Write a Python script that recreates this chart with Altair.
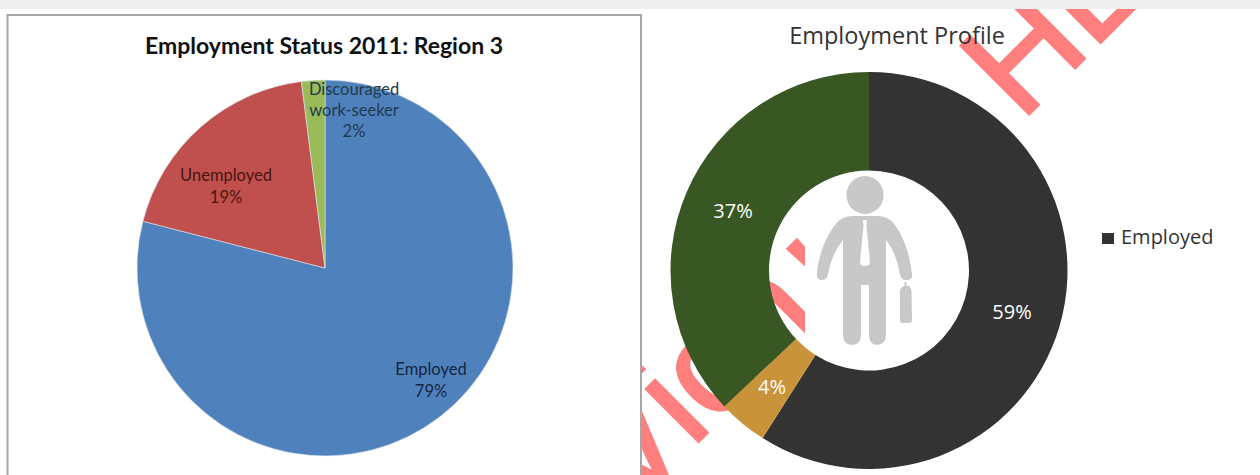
import altair as alt
import pandas as pd

# Employment shares, in percent
status_names = ["Employed", "Unemployed", "Discouraged work-seeker"]
status_values = [79, 19, 2]
status_colors = ["#4f81bd", "#c0504d", "#9bbb59"]

profile_names = ["Employed", "Unemployed", "Discouraged"]
profile_values = [59, 4, 37]
profile_colors = ["#333333", "#c9933a", "#385723"]

BODY_FONT = "Lato"
ICON_FONT = "Open Sans"
STAMP = "#ff7f7f"
ICON_GREY = "#c8c8c8"
blank = alt.Data(values=[{}])


def box(x, x2, y, y2, **style):
    return alt.Chart(blank).mark_rect(**style).encode(
        x=alt.value(x), x2=alt.value(x2), y=alt.value(y), y2=alt.value(y2)
    )


def label(text, x, y, size, color="#1a1a1a", font=BODY_FONT, **style):
    return alt.Chart(blank).mark_text(
        text=text, fontSize=size, font=font, color=color, lineBreak="\n", **style
    ).encode(x=alt.value(x), y=alt.value(y))


def stamp(text, x, y):
    # Rotated watermark lettering
    return alt.Chart(blank).mark_text(
        text=text, fontSize=140, font="Liberation Sans", color=STAMP,
        stroke=STAMP, strokeWidth=3, angle=315, align="left", baseline="alphabetic",
    ).encode(x=alt.value(x), y=alt.value(y))


def ring(names, values, colors, cx, cy, outer, inner=0, **style):
    frame = pd.DataFrame({"name": names, "value": values, "rank": range(len(names))})
    return alt.Chart(frame).mark_arc(radius=outer, radius2=inner, **style).encode(
        theta=alt.Theta("value:Q", stack=True, scale=alt.Scale(domain=[0, 100])),
        order=alt.Order("rank:O"),
        color=alt.Color("name:N", sort=names, legend=None,
                        scale=alt.Scale(domain=names, range=colors)),
        x=alt.value(cx),
        y=alt.value(cy),
    )


# Pictogram outlines, given in page pixels around the icon centre
ICON_X, ICON_Y, ICON_R = 866, 260, 90


def icon_path(commands):
    out = []
    for item in commands:
        if isinstance(item, str):
            out.append(item)
        else:
            out.append(f"{(item[0] - ICON_X) / ICON_R:.4f},{(item[1] - ICON_Y) / ICON_R:.4f}")
    return " ".join(out)


def icon_shape(commands, color):
    return alt.Chart(blank).mark_point(
        shape=icon_path(commands), size=(2 * ICON_R) ** 2, filled=True, fill=color,
        opacity=1, strokeWidth=0,
    ).encode(x=alt.value(ICON_X), y=alt.value(ICON_Y))


HEAD_ARC = f"A {18.5 / ICON_R:.4f} {18.5 / ICON_R:.4f} 0 1 0"
person = [
    # head
    "M", (846.5, 195), HEAD_ARC, (883.5, 195), HEAD_ARC, (846.5, 195), "Z",
    # torso, arms and legs
    "M", (853, 216), "L", (877, 216), "Q", (889, 216), (895, 225),
    "Q", (909, 245), (912, 274), "Q", (913, 280), (907, 280), "Q", (901, 281), (900, 274),
    "Q", (896, 252), (886, 240), "L", (886, 334),
    "Q", (886, 345), (877, 345), "Q", (869, 345), (869, 334), "L", (869, 285), "L", (861, 285),
    "L", (861, 334), "Q", (861, 345), (852, 345), "Q", (843, 345), (843, 334),
    "L", (843, 240), "Q", (831, 255), (828, 274), "Q", (827, 280), (822, 280),
    "Q", (816, 280), (817, 272), "Q", (820, 245), (835, 225), "Q", (841, 216), (853, 216), "Z",
]
necktie = [
    "M", (863, 220), "L", (867, 220), "L", (866.5, 226), "L", (870, 262),
    "Q", (870, 266), (865, 266), "Q", (860, 266), (860, 262), "L", (863.5, 226), "Z",
]
briefcase = [
    "M", (904.5, 282), "L", (906.5, 282), "L", (906.5, 286), "L", (909, 286),
    "Q", (911, 287), (911.5, 291), "L", (912, 320), "Q", (912, 323), (909, 323),
    "L", (902, 323), "Q", (900, 323), (900, 320), "L", (900, 291), "Q", (900.5, 287), (904.5, 286), "Z",
]

layers = [
    # Watermark sits beneath both charts
    stamp("V", 630, 514),
    stamp("io", 692, 448),
    stamp("n", 770, 376),
    stamp("'", 851, 322),
    stamp("HE", 1021, 122),
    # The pictogram's white backing hides the watermark in the right of the ring's hole
    box(805, 960, 170, 370, fill="white"),
    box(0, 1260, 0, 9, fill="#efefef"),
    # Left panel
    box(7.5, 641, 15, 490, fill="white", stroke="#a6a6a6", strokeWidth=2),
    ring(status_names, status_values, status_colors, 325, 268, 188,
         stroke="#dfe6f0", strokeWidth=0.6),
    label("Employment Status 2011: Region 3", 324, 47, 23, color="#111111", fontWeight="bold"),
    label("Discouraged\nwork-seeker\n2%", 354, 90, 16.5, color="#1f3a4d", lineHeight=21),
    label("Unemployed\n19%", 226, 176, 16.5, color="#4a1512", lineHeight=22),
    label("Employed\n79%", 431, 370, 16.5, color="#16263d", lineHeight=22),
    # Right panel
    ring(profile_names, profile_values, profile_colors, 869, 270.5, 198.5, inner=100),
    label("Employment Profile", 897, 37, 23.5, color="#333333", font=ICON_FONT),
    label("59%", 1012, 313, 20, color="white", font=ICON_FONT),
    label("4%", 772, 388, 20, color="white", font=ICON_FONT),
    label("37%", 733, 212, 20, color="white", font=ICON_FONT),
    icon_shape(person, ICON_GREY),
    icon_shape(necktie, "white"),
    icon_shape(briefcase, ICON_GREY),
    box(1102, 1114, 233, 244, fill="#333333"),
    label("Employed", 1121, 238, 20, color="#333333", font=ICON_FONT, align="left"),
]

chart = alt.layer(*layers).resolve_scale(color="independent", theta="independent").properties(
    width=1260, height=475, padding=0, autosize=alt.AutoSizeParams(type="none"),
    background="white",
).configure_view(stroke=None)

chart.save("out.html", embed_options={"renderer": "svg", "actions": False})
